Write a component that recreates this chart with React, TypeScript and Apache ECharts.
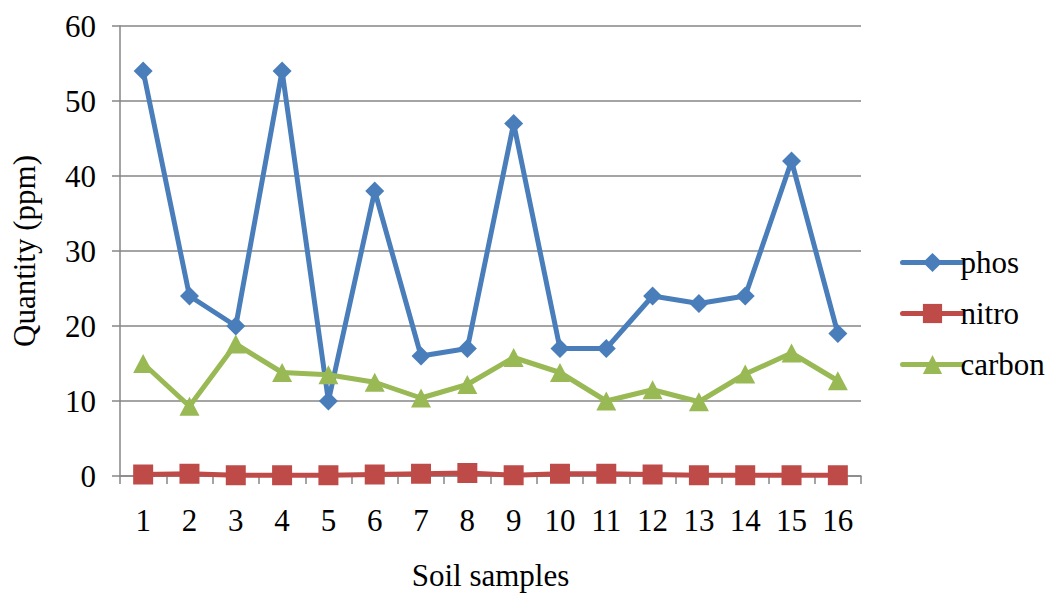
import React, { useEffect, useRef } from "react";
import * as echarts from "echarts";

const categories = ["1", "2", "3", "4", "5", "6", "7", "8", "9", "10", "11", "12", "13", "14", "15", "16"];
const phos = [54, 24, 20, 54, 10, 38, 16, 17, 47, 17, 17, 24, 23, 24, 42, 19];
const nitro = [0.2, 0.3, 0.1, 0.1, 0.1, 0.2, 0.3, 0.4, 0.1, 0.3, 0.3, 0.2, 0.1, 0.1, 0.1, 0.1];
const carbon = [15.0, 9.3, 17.6, 13.8, 13.5, 12.5, 10.4, 12.2, 15.8, 13.8, 10.0, 11.5, 9.9, 13.6, 16.4, 12.7];

const FONT = "Liberation Serif";
const FS = 31;

export default function App() {
  const ref = useRef<HTMLDivElement>(null);
  useEffect(() => {
    if (!ref.current) return;
    const chart = echarts.init(ref.current, null, { renderer: "svg" });
    chart.setOption({
      animation: false,
      backgroundColor: "#ffffff",
      textStyle: { fontFamily: FONT },
      grid: { left: 120, right: 187, top: 26, bottom: 117, containLabel: false, outerBoundsMode: "none" },
      legend: {
        orient: "vertical",
        left: 895,
        top: 242,
        itemGap: 20,
        itemWidth: 60,
        itemHeight: 24,
        lineStyle: { width: 5, cap: "round" },
        textStyle: { fontFamily: FONT, fontSize: FS, color: "#000", padding: [0, 0, 0, -7] },
        data: ["phos", "nitro", "carbon"],
      },
      xAxis: {
        type: "category",
        data: categories,
        boundaryGap: true,
        name: "Soil samples",
        nameLocation: "middle",
        nameGap: 84,
        nameTextStyle: { fontFamily: FONT, fontSize: FS, color: "#000" },
        axisLine: { lineStyle: { color: "#868686", width: 1.5 } },
        axisTick: { show: true, inside: false, length: 8, alignWithLabel: false, lineStyle: { color: "#868686", width: 1.5 } },
        axisLabel: { fontFamily: FONT, fontSize: FS, color: "#000", margin: 29 },
      },
      yAxis: {
        type: "value",
        min: 0,
        max: 60,
        interval: 10,
        name: "Quantity (ppm)",
        nameLocation: "middle",
        nameGap: 80,
        nameTextStyle: { fontFamily: FONT, fontSize: FS, color: "#000" },
        axisLine: { show: true, lineStyle: { color: "#868686", width: 1.5 } },
        axisTick: { show: true, inside: false, length: 8, lineStyle: { color: "#868686", width: 1.5 } },
        splitLine: { show: true, lineStyle: { color: "#868686", width: 1.5 } },
        axisLabel: { fontFamily: FONT, fontSize: FS, color: "#000", margin: 24 },
      },
      series: [
        {
          name: "phos",
          type: "line",
          data: phos,
          symbol: "diamond",
          symbolSize: 19,
          itemStyle: { color: "#4A7EBB" },
          lineStyle: { color: "#4A7EBB", width: 5 },
        },
        {
          name: "nitro",
          type: "line",
          data: nitro,
          symbol: "rect",
          symbolSize: 20,
          itemStyle: { color: "#BE4B48" },
          lineStyle: { color: "#BE4B48", width: 5 },
        },
        {
          name: "carbon",
          type: "line",
          data: carbon,
          symbol: "triangle",
          symbolSize: [20, 19],
          itemStyle: { color: "#98B954" },
          lineStyle: { color: "#98B954", width: 5 },
        },
      ],
    });
    return () => chart.dispose();
  }, []);
  return <div ref={ref} style={{ width: 1048, height: 593, position: "absolute", left: 0, top: 0 }} />;
}
